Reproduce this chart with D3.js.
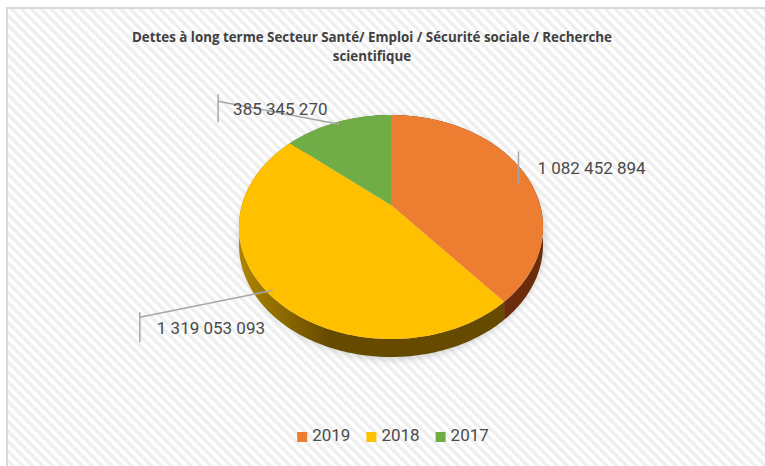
<!DOCTYPE html>
<html>
<head>
<meta charset="utf-8">
<script src="https://cdn.jsdelivr.net/npm/d3@7"></script>
<style>
  body { margin: 0; background: #fff; }
  svg { display: block; }
</style>
</head>
<body>
<svg id="chart"></svg>
<script>
// data
const years = ['2019', '2018', '2017'];
const amounts = [1082452894, 1319053093, 385345270];
const amountLabels = ['1 082 452 894', '1 319 053 093', '385 345 270'];
const titleLines = ['Dettes à long terme Secteur Santé/ Emploi / Sécurité sociale / Recherche', 'scientifique'];

const W = 765, H = 466;
const colors = d3.scaleOrdinal().domain(years).range(['#ED7D31', '#FFC000', '#70AD47']);
const sideDark = d3.scaleOrdinal().domain(years).range(['#6a2c0b', '#664a00', '#3d5e27']);
const sideLight = d3.scaleOrdinal().domain(years).range(['#a4511d', '#b08600', '#5b8a3a']);

const svg = d3.select('#chart').attr('width', W).attr('height', H);
const defs = svg.append('defs');

// striped background
const pat = defs.append('pattern')
  .attr('id', 'stripes')
  .attr('patternUnits', 'userSpaceOnUse')
  .attr('width', 7).attr('height', 7)
  .attr('patternTransform', 'rotate(-45)');
pat.append('rect').attr('width', 7).attr('height', 7).attr('fill', '#ffffff');
pat.append('rect').attr('width', 3.5).attr('height', 7).attr('fill', '#efefef');

svg.append('rect')
  .attr('x', 7).attr('y', 8).attr('width', W).attr('height', H)
  .attr('fill', 'url(#stripes)')
  .attr('stroke', '#d9d9d9').attr('stroke-width', 2);

// pie geometry (tilted disc with perspective)
const cx = 391, cy = 227, rx = 152, ry = 112, depth = 18;
const t = -0.196; // perspective shift of the apex
function proj(theta, f = 1) {
  const u = f * Math.sin(theta), v = -f * Math.cos(theta);
  const den = 1 + t * v;
  return [cx + rx * u * Math.sqrt(1 - t * t) / den, cy + ry * (v + t) / den];
}
const apex = proj(0, 0);

const pie = d3.pie().sort(null).value(d => d.value);
const arcs = pie(years.map((y, i) => ({ year: y, value: amounts[i], label: amountLabels[i] })));

function rimPoints(a0, a1) {
  const n = Math.max(2, Math.ceil((a1 - a0) / 0.02));
  return d3.range(n + 1).map(k => proj(a0 + (a1 - a0) * k / n));
}
const line = d3.line();

// soft shadow
defs.append('filter').attr('id', 'blur').attr('x', '-20%').attr('y', '-20%').attr('width', '140%').attr('height', '140%')
  .append('feGaussianBlur').attr('stdDeviation', 3);
svg.append('ellipse')
  .attr('cx', cx + 1).attr('cy', cy + depth / 2 + 2)
  .attr('rx', rx + 2).attr('ry', ry + depth / 2 + 1)
  .attr('fill', '#a0a0a0').attr('opacity', 0.4)
  .attr('filter', 'url(#blur)');

// side gradients
years.forEach(y => {
  const g = defs.append('linearGradient')
    .attr('id', 'side' + y)
    .attr('gradientUnits', 'userSpaceOnUse')
    .attr('x1', cx - rx).attr('x2', cx + rx).attr('y1', 0).attr('y2', 0);
  g.append('stop').attr('offset', 0).attr('stop-color', sideLight(y));
  g.append('stop').attr('offset', 0.3).attr('stop-color', sideDark(y));
  g.append('stop').attr('offset', 1).attr('stop-color', sideDark(y));
});

// side walls
svg.append('g').selectAll('path')
  .data(arcs)
  .join('path')
  .attr('d', d => {
    const top = rimPoints(d.startAngle, d.endAngle);
    const bottom = top.map(p => [p[0], p[1] + depth]).reverse();
    return line(top.concat(bottom)) + 'Z';
  })
  .attr('fill', d => `url(#side${d.data.year})`);

// top faces
svg.append('g').selectAll('path')
  .data(arcs)
  .join('path')
  .attr('d', d => line([apex].concat(rimPoints(d.startAngle, d.endAngle))) + 'Z')
  .attr('fill', d => colors(d.data.year));

// data labels with leader lines
const labelLayout = {
  '2019': { tickX: 0, tickTop: -20, tickBottom: 13, joinY: 0, textX: 19, textY: -2 },
  '2018': { tickX: -133, tickTop: 22, tickBottom: 52, joinY: 27, textX: -116, textY: 39 },
  '2017': { tickX: -121, tickTop: -30, tickBottom: -2, joinY: -23, textX: -106, textY: -14 }
};
const lab = svg.append('g');
arcs.forEach(d => {
  const L = labelLayout[d.data.year];
  const a = proj((d.startAngle + d.endAngle) / 2, 0.97);
  const tx = a[0] + L.tickX;
  lab.append('line')
    .attr('x1', tx).attr('x2', tx)
    .attr('y1', a[1] + L.tickTop).attr('y2', a[1] + L.tickBottom)
    .attr('stroke', '#a6a6a6').attr('stroke-width', 1.5);
  if (L.tickX !== 0) {
    lab.append('line')
      .attr('x1', tx).attr('y1', a[1] + L.joinY)
      .attr('x2', a[0]).attr('y2', a[1])
      .attr('stroke', '#a6a6a6').attr('stroke-width', 1.5);
  }
  lab.append('text')
    .attr('x', a[0] + L.textX).attr('y', a[1] + L.textY)
    .attr('dominant-baseline', 'middle')
    .attr('font-family', 'Roboto, sans-serif')
    .attr('font-size', 17)
    .attr('fill', '#4a4a4a')
    .text(d.data.label);
});

// title (glyphs squeezed a little to mimic the narrow original font)
const title = svg.append('g')
  .attr('font-family', '"Open Sans", sans-serif')
  .attr('font-weight', 'bold')
  .attr('font-size', 14)
  .attr('fill', '#404040')
  .attr('text-anchor', 'middle');
const t1 = title.append('text').attr('x', 372).attr('y', 42).text(titleLines[0]);
const squeeze = 480 / t1.node().getComputedTextLength();
t1.attr('textLength', 480).attr('lengthAdjust', 'spacingAndGlyphs');
const t2 = title.append('text').attr('x', 372).attr('y', 61).text(titleLines[1]);
t2.attr('textLength', t2.node().getComputedTextLength() * squeeze).attr('lengthAdjust', 'spacingAndGlyphs');

// legend
const legend = svg.append('g').attr('transform', 'translate(0,437)');
const items = legend.selectAll('g').data(years).join('g');
items.append('rect').attr('y', -5).attr('width', 10).attr('height', 10).attr('fill', d => colors(d));
items.append('text')
  .attr('x', 15).attr('dominant-baseline', 'middle')
  .attr('font-family', 'Roboto, sans-serif').attr('font-size', 17)
  .attr('fill', '#4a4a4a')
  .text(d => d);
let x = 0;
const widths = [];
items.each(function () { widths.push(this.getBBox().width); });
const gap = 16;
const total = d3.sum(widths) + gap * (widths.length - 1);
x = 393 - total / 2;
items.attr('transform', (d, i) => {
  const pos = x;
  x += widths[i] + gap;
  return `translate(${pos},0)`;
});
</script>
</body>
</html>
